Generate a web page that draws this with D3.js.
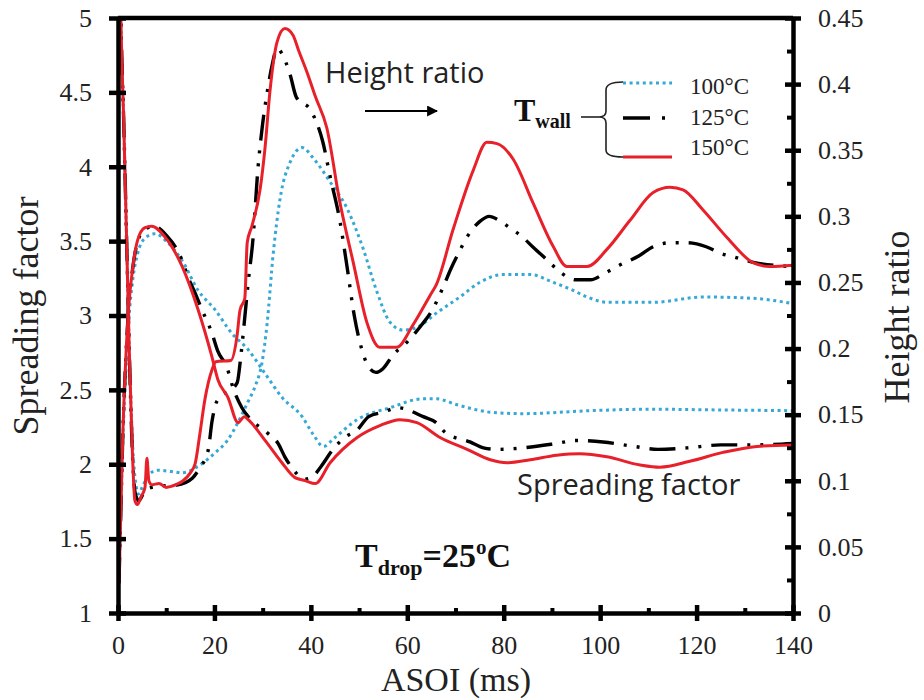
<!DOCTYPE html>
<html>
<head>
<meta charset="utf-8">
<script src="https://cdn.jsdelivr.net/npm/d3@7"></script>
<style>
  body { margin: 0; background: #fff; }
  svg { display: block; }
</style>
</head>
<body>
<svg id="chart" width="924" height="700"></svg>
<script>
// ---- axes ----
const xTicks = [0, 20, 40, 60, 80, 100, 120, 140];
const xMinorTicks = [10, 30, 50, 70, 90, 110, 130];
const leftTicks = [1, 1.5, 2, 2.5, 3, 3.5, 4, 4.5, 5];
const rightTicks = [0, 0.05, 0.1, 0.15, 0.2, 0.25, 0.3, 0.35, 0.4, 0.45];
const rightMinorTicks = [0.025, 0.075, 0.125, 0.175, 0.225, 0.275, 0.325, 0.375, 0.425];
const wallTemps = ["100°C", "125°C", "150°C"];

// ---- spreading factor (left axis) ----
const sfTime100 = [0.2, 0.6, 1.0, 1.6, 2.2, 3.1, 4.1, 5.6, 7.7, 10, 13.3, 16.6, 20.1, 23.6, 27, 30.5, 34, 38.2, 40.5, 42.6, 45, 49.6, 56.4, 63.3, 66, 70.3, 77.2, 84, 97.9, 110, 125, 140];
const sf100 = [1.2, 1.7, 2.15, 2.6, 2.95, 3.25, 3.42, 3.52, 3.55, 3.5, 3.37, 3.17, 3.04, 2.88, 2.77, 2.61, 2.45, 2.32, 2.2, 2.12, 2.18, 2.3, 2.38, 2.44, 2.44, 2.4, 2.35, 2.34, 2.36, 2.37, 2.365, 2.36];

const sfTime125 = [0.2, 0.6, 1.0, 1.6, 2.2, 3.1, 4.1, 5.6, 7.5, 10, 13.3, 14.5, 16, 17.4, 19.5, 20.7, 22.6, 23.9, 25.7, 27, 31, 33.2, 34.6, 36, 38.8, 40.5, 42, 44.6, 47, 49.6, 52, 55, 58, 63.3, 66, 68, 73, 75.8, 78.6, 84, 91, 95, 100.6, 107, 112, 118, 125, 132, 140];
const sf125 = [1.2, 1.7, 2.2, 2.7, 3.05, 3.33, 3.5, 3.58, 3.6, 3.54, 3.37, 3.26, 3.15, 3.04, 2.88, 2.76, 2.65, 2.51, 2.38, 2.32, 2.21, 2.14, 2.05, 1.98, 1.9, 1.92, 1.98, 2.1, 2.18, 2.23, 2.32, 2.35, 2.38, 2.32, 2.28, 2.21, 2.15, 2.11, 2.1, 2.11, 2.14, 2.16, 2.15, 2.12, 2.1, 2.11, 2.13, 2.13, 2.14];

const sfTime150 = [0.2, 0.6, 1.0, 1.6, 2.2, 3.1, 4.1, 5.6, 7.0, 9.7, 13.3, 16.6, 19.5, 20.7, 22.8, 24.9, 26.2, 27, 30.5, 34, 36.7, 38.8, 40.9, 44, 49.6, 54.3, 58.5, 62, 66.8, 72.4, 77.2, 80.7, 85.5, 91, 95.8, 101.4, 108.3, 112.4, 118.6, 125.5, 132.5, 140];
const sf150 = [1.2, 1.7, 2.2, 2.7, 3.05, 3.33, 3.51, 3.59, 3.6, 3.53, 3.33, 3.04, 2.72, 2.57, 2.45, 2.28, 2.32, 2.3, 2.16, 2.01, 1.91, 1.89, 1.87, 2.01, 2.18, 2.26, 2.3, 2.28, 2.18, 2.1, 2.03, 2.01, 2.03, 2.06, 2.07, 2.05, 1.995, 1.98, 2.02, 2.08, 2.12, 2.13];

// ---- height ratio (right axis) ----
const hrTime100 = [0.3, 0.6, 1.2, 1.8, 2.4, 3.0, 3.6, 4.3, 5, 6.5, 8.3, 11, 13.3, 17, 20.1, 22.8, 25, 27, 28.5, 29.9, 30.9, 32.2, 33.6, 35.7, 38.2, 40.5, 44, 47.5, 50.8, 53.7, 56.4, 59.1, 62, 66.1, 70.9, 75, 79.9, 85.5, 90.3, 94.4, 97.3, 101.4, 111, 121.3, 131.7, 140];
const hr100 = [0.52, 0.45, 0.37, 0.28, 0.19, 0.13, 0.1, 0.09, 0.095, 0.105, 0.108, 0.107, 0.106, 0.112, 0.121, 0.131, 0.145, 0.16, 0.172, 0.19, 0.218, 0.272, 0.313, 0.341, 0.352, 0.344, 0.326, 0.306, 0.276, 0.243, 0.22, 0.214, 0.216, 0.227, 0.239, 0.25, 0.256, 0.256, 0.25, 0.244, 0.239, 0.235, 0.235, 0.239, 0.238, 0.234];

const hrTime125 = [0.3, 0.6, 1.2, 1.8, 2.4, 3.0, 3.6, 4.3, 5.5, 7, 9, 12.4, 15.4, 17, 18.7, 19.5, 20.5, 24.7, 25.5, 26.2, 27, 28, 29, 30, 31, 32, 33, 34, 35.7, 37, 40, 42.5, 44, 46, 47.5, 49, 50.6, 52, 53.5, 55, 57, 60, 63, 65, 67.5, 69, 70.6, 72.5, 75, 77, 79, 81, 84, 86, 89, 92, 95, 98, 101, 104, 108, 111, 114.5, 118, 122, 125, 128, 132, 136, 140];
const hr125 = [0.52, 0.45, 0.37, 0.28, 0.19, 0.12, 0.09, 0.085, 0.092, 0.095, 0.096, 0.097, 0.102, 0.11, 0.123, 0.145, 0.16, 0.174, 0.195, 0.22, 0.25, 0.283, 0.335, 0.37, 0.395, 0.415, 0.427, 0.423, 0.407, 0.39, 0.38, 0.356, 0.33, 0.297, 0.262, 0.225, 0.199, 0.186, 0.182, 0.185, 0.195, 0.205, 0.218, 0.228, 0.247, 0.26, 0.272, 0.285, 0.296, 0.3, 0.297, 0.292, 0.284, 0.277, 0.267, 0.257, 0.252, 0.252, 0.257, 0.263, 0.27, 0.277, 0.28, 0.28, 0.277, 0.272, 0.269, 0.265, 0.263, 0.262];

const hrTime150 = [0.3, 0.6, 1.2, 1.8, 2.4, 3.0, 3.5, 4.0, 4.8, 5.6, 6.0, 6.4, 7.0, 8.5, 10, 12, 13.5, 15, 16, 17, 18, 19.5, 20.3, 23.4, 24.7, 25.3, 26.3, 26.8, 27.8, 29.5, 30.5, 31.5, 33, 34.6, 36.3, 37.5, 39.2, 41, 43.3, 46, 48.8, 51.6, 54.3, 57.8, 61.2, 64.7, 66.1, 69.5, 73.7, 76.5, 78.6, 82, 86.1, 90.3, 93.1, 97.3, 101.4, 106.2, 111, 114.5, 117.2, 121.3, 126.3, 131.7, 135.2, 140];
const hr150 = [0.52, 0.45, 0.37, 0.28, 0.19, 0.12, 0.085, 0.082, 0.088, 0.095, 0.117, 0.1, 0.097, 0.098, 0.095, 0.097, 0.1, 0.106, 0.113, 0.136, 0.161, 0.184, 0.19, 0.191, 0.21, 0.229, 0.238, 0.28, 0.293, 0.321, 0.352, 0.394, 0.432, 0.442, 0.437, 0.425, 0.409, 0.39, 0.367, 0.311, 0.265, 0.22, 0.201, 0.201, 0.218, 0.24, 0.249, 0.29, 0.335, 0.356, 0.355, 0.343, 0.31, 0.277, 0.262, 0.262, 0.275, 0.297, 0.318, 0.322, 0.32, 0.305, 0.284, 0.265, 0.262, 0.263];

// ---- layout ----
const svg = d3.select("#chart");
const plotLeft = 118, plotRight = 793, plotTop = 18, plotBottom = 613;
const SERIF = "'Liberation Serif', 'Times New Roman', serif";
const SANS = "'Open Sans', 'Noto Sans', sans-serif";

const x = d3.scaleLinear().domain([0, 140]).range([plotLeft, plotRight]);
const yL = d3.scaleLinear().domain([1, 5]).range([plotBottom, plotTop]);
const yR = d3.scaleLinear().domain([0, 0.45]).range([plotBottom, plotTop]);

svg.append("rect").attr("width", 924).attr("height", 700).attr("fill", "#fff");

const defs = svg.append("defs");
defs.append("clipPath").attr("id", "plotClip")
  .append("rect").attr("x", plotLeft).attr("y", plotTop)
  .attr("width", plotRight - plotLeft).attr("height", plotBottom - plotTop);

// series styles
const styles = {
  "100": { stroke: "#35a8d5", width: 3, dash: "3,3.6" },
  "125": { stroke: "#000", width: 3.4, dash: "26,10,3,10,3,10" },
  "150": { stroke: "#e8202a", width: 3, dash: null }
};

const series = [
  { t: sfTime100, v: sf100, y: yL, s: styles["100"] },
  { t: hrTime100, v: hr100, y: yR, s: styles["100"] },
  { t: sfTime125, v: sf125, y: yL, s: styles["125"] },
  { t: hrTime125, v: hr125, y: yR, s: styles["125"] },
  { t: sfTime150, v: sf150, y: yL, s: styles["150"] },
  { t: hrTime150, v: hr150, y: yR, s: styles["150"] }
];

const plot = svg.append("g").attr("clip-path", "url(#plotClip)");
series.forEach(d => {
  const line = d3.line()
    .x(p => x(p[0]))
    .y(p => d.y(p[1]))
    .curve(d3.curveMonotoneX);
  plot.append("path")
    .datum(d3.zip(d.t, d.v))
    .attr("d", line)
    .attr("fill", "none")
    .attr("stroke", d.s.stroke)
    .attr("stroke-width", d.s.width)
    .attr("stroke-linejoin", "round")
    .attr("stroke-dasharray", d.s.dash);
});

// frame
svg.append("line").attr("x1", plotLeft).attr("x2", plotRight).attr("y1", plotTop).attr("y2", plotTop)
  .attr("stroke", "#000").attr("stroke-width", 4.5);

function styleAxis(g, fontSize) {
  g.select(".domain").attr("stroke", "#000").attr("stroke-width", 4.5);
  g.selectAll(".tick line").attr("stroke", "#000").attr("stroke-width", 4.5);
  g.selectAll(".tick text")
    .attr("fill", "#222")
    .style("font-family", SERIF)
    .style("font-size", fontSize + "px");
}

// bottom axis
const gx = svg.append("g").attr("transform", `translate(0,${plotBottom})`)
  .call(d3.axisBottom(x).tickValues(xTicks).tickSizeInner(8).tickSizeOuter(0).tickPadding(14.5).tickFormat(d => d));
styleAxis(gx, 26);
gx.selectAll(".tick line").attr("y1", -8).attr("y2", 8);
const gxm = svg.append("g").attr("transform", `translate(0,${plotBottom})`)
  .call(d3.axisBottom(x).tickValues(xMinorTicks).tickSize(-5).tickFormat(""));
gxm.select(".domain").remove();
gxm.selectAll(".tick line").attr("stroke", "#000").attr("stroke-width", 4);

// left axis
const gl = svg.append("g").attr("transform", `translate(${plotLeft},0)`)
  .call(d3.axisLeft(yL).tickValues(leftTicks).tickSizeInner(9).tickSizeOuter(0).tickPadding(17).tickFormat(d => d));
styleAxis(gl, 26);
gl.selectAll(".tick line").attr("x1", 8).attr("x2", -9);

// right axis
const gr = svg.append("g").attr("transform", `translate(${plotRight},0)`)
  .call(d3.axisRight(yR).tickValues(rightTicks).tickSizeInner(8).tickSizeOuter(0).tickPadding(17).tickFormat(d => d));
styleAxis(gr, 26);
gr.selectAll(".tick line").attr("x1", -8).attr("x2", 8);
const grm = svg.append("g").attr("transform", `translate(${plotRight},0)`)
  .call(d3.axisRight(yR).tickValues(rightMinorTicks).tickSize(-6).tickFormat(""));
grm.select(".domain").remove();
grm.selectAll(".tick line").attr("stroke", "#000").attr("stroke-width", 4);

// axis titles
svg.append("text")
  .attr("transform", "translate(38,316) rotate(-90)")
  .attr("text-anchor", "middle")
  .style("font-family", SERIF).style("font-size", "36px").attr("fill", "#222")
  .text("Spreading  factor");
svg.append("text")
  .attr("transform", "translate(909,317) rotate(-90)")
  .attr("text-anchor", "middle")
  .style("font-family", SERIF).style("font-size", "36px").attr("fill", "#222")
  .text("Height ratio");
svg.append("text")
  .attr("x", 456).attr("y", 691)
  .attr("text-anchor", "middle")
  .style("font-family", SERIF).style("font-size", "34px").attr("fill", "#222")
  .text("ASOI (ms)");

// annotations
svg.append("text")
  .attr("x", 325).attr("y", 83)
  .style("font-family", SANS).style("font-size", "29px").attr("fill", "#222")
  .text("Height ratio");
svg.append("text")
  .attr("x", 517).attr("y", 495)
  .style("font-family", SANS).style("font-size", "29px").attr("fill", "#222")
  .text("Spreading factor");

defs.append("marker")
  .attr("id", "arrowHead").attr("viewBox", "0 0 10 10")
  .attr("refX", 9).attr("refY", 5)
  .attr("markerWidth", 5).attr("markerHeight", 5)
  .attr("markerUnits", "strokeWidth")
  .attr("orient", "auto")
  .append("path").attr("d", "M0,0 L10,5 L0,10 Z").attr("fill", "#000");
svg.append("line")
  .attr("x1", 365).attr("x2", 437).attr("y1", 111).attr("y2", 111)
  .attr("stroke", "#000").attr("stroke-width", 2.2)
  .attr("marker-end", "url(#arrowHead)");

// T_drop label
const tDrop = svg.append("text")
  .attr("x", 355).attr("y", 567)
  .style("font-family", SERIF).style("font-weight", "bold").style("font-size", "34px").attr("fill", "#111");
tDrop.append("tspan").text("T");
tDrop.append("tspan").attr("dy", 8).style("font-size", "22px").text("drop");
tDrop.append("tspan").attr("dy", -8).text("=25");
tDrop.append("tspan").attr("dy", -13).style("font-size", "21px").text("o");
tDrop.append("tspan").attr("dy", 13).text("C");

// T_wall legend
const tWall = svg.append("text")
  .attr("x", 514).attr("y", 121)
  .style("font-family", SERIF).style("font-weight", "bold").style("font-size", "32px").attr("fill", "#111");
tWall.append("tspan").text("T");
tWall.append("tspan").attr("dy", 7).style("font-size", "20px").text("wall");

svg.append("line").attr("x1", 581).attr("x2", 599).attr("y1", 117).attr("y2", 117)
  .attr("stroke", "#222").attr("stroke-width", 1.6);
svg.append("path")
  .attr("d", "M623,82 Q606,82 606,90 L606,111 Q606,117 599,117 Q606,117 606,123 L606,150 Q606,157 623,157")
  .attr("fill", "none").attr("stroke", "#222").attr("stroke-width", 1.6);

const legendRows = [
  { label: wallTemps[0], s: styles["100"], ly: 83, ty: 94, dash: styles["100"].dash, x2: 672 },
  { label: wallTemps[1], s: styles["125"], ly: 118, ty: 125, dash: "27,12,3,40", x2: 666 },
  { label: wallTemps[2], s: styles["150"], ly: 157, ty: 155, dash: null, x2: 672 }
];
legendRows.forEach(r => {
  svg.append("line")
    .attr("x1", 623).attr("x2", r.x2)
    .attr("y1", r.ly).attr("y2", r.ly)
    .attr("stroke", r.s.stroke).attr("stroke-width", r.s.width)
    .attr("stroke-dasharray", r.dash);
  svg.append("text")
    .attr("x", 690).attr("y", r.ty)
    .style("font-family", SERIF).style("font-size", "23px").attr("fill", "#222")
    .text(r.label);
});
</script>
</body>
</html>
